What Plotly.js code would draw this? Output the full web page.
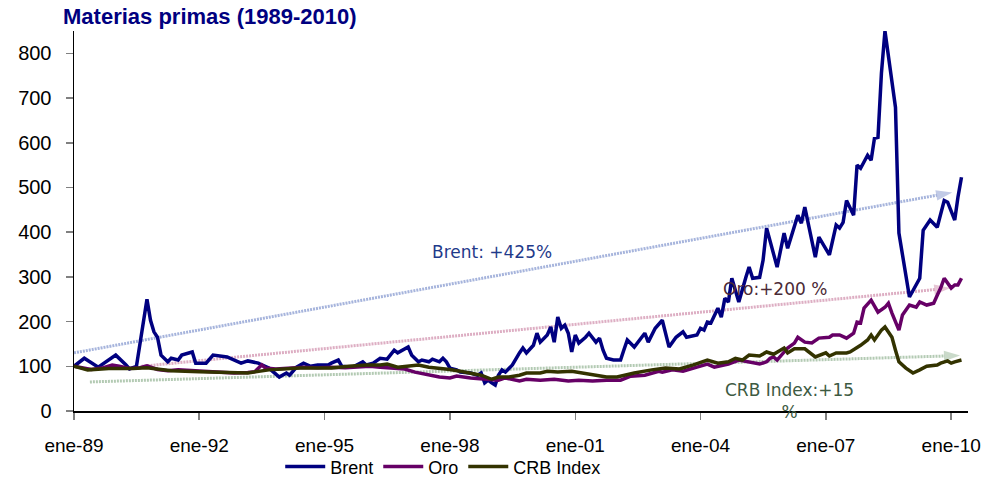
<!DOCTYPE html>
<html>
<head>
<meta charset="utf-8">
<script src="https://cdn.plot.ly/plotly-3.0.1.min.js"></script>
<style>html,body{margin:0;padding:0;background:#fff;}#chart{width:994px;height:480px;}</style>
</head>
<body>
<div id="chart"></div>
<script>
// ---- Data (base 100 = ene-89) ----
const brentDates = ['1989-01','1989-04','1989-08','1989-11','1990-01','1990-04','1990-05','1990-07','1990-10','1990-11','1990-12',
'1991-01','1991-02','1991-04','1991-05','1991-07','1991-08','1991-11','1991-12','1992-03','1992-05','1992-09','1993-01','1993-03',
'1993-06','1993-07','1993-09','1993-12','1994-02','1994-03','1994-05','1994-07','1994-09','1994-11','1995-02','1995-03','1995-05',
'1995-06','1995-09','1995-12','1996-01','1996-03','1996-05','1996-07','1996-09','1996-10','1997-01','1997-02','1997-04','1997-05',
'1997-07','1997-08','1997-10','1997-11','1997-12','1998-01','1998-03','1998-04','1998-07','1998-09','1998-10','1998-11','1998-12',
'1999-01','1999-02','1999-03','1999-04','1999-05','1999-07','1999-09','1999-10','1999-11','2000-01','2000-02','2000-03','2000-05',
'2000-06','2000-07','2000-08','2000-09','2000-10','2000-11','2000-12','2001-01','2001-02','2001-04','2001-05','2001-07','2001-08',
'2001-09','2001-10','2001-12','2002-02','2002-03','2002-04','2002-06','2002-07','2002-09','2002-10','2002-12','2003-02','2003-04',
'2003-06','2003-08','2003-09','2003-12','2004-01','2004-02','2004-03','2004-04','2004-06','2004-07','2004-08','2004-09','2004-10',
'2004-11','2004-12','2005-02','2005-03','2005-04','2005-06','2005-07','2005-08','2005-11','2006-01','2006-02','2006-05','2006-06',
'2006-07','2006-10','2006-11','2007-02','2007-04','2007-05','2007-06','2007-07','2007-09','2007-10','2007-11','2008-01','2008-02',
'2008-03','2008-04','2008-05','2008-06','2008-09','2008-10','2009-01','2009-02','2009-04','2009-05','2009-07','2009-09','2009-11',
'2009-12','2010-02','2010-03','2010-04'];
const brentValues = [100,118,98,114,125,103,94,100,250,203,177,
165,125,110,118,114,125,132,107,107,125,121,107,112,
107,103,96,76,85,80,98,107,100,103,103,107,114,
100,98,110,103,107,118,116,136,130,143,125,110,114,
110,116,110,118,110,96,92,87,85,80,85,63,69,
63,58,80,92,87,103,130,141,130,147,174,154,170,
188,154,210,185,192,174,132,170,152,165,174,154,163,
136,118,114,114,136,159,143,154,174,154,185,203,143,
165,177,165,170,185,181,199,197,230,210,252,244,297,
270,244,299,322,297,299,337,409,322,398,364,438,420,
456,344,389,349,416,409,422,471,438,550,543,572,561,
610,612,755,850,679,398,255,270,297,404,427,411,471,
467,427,478,523];

const oroDates = ['1989-01','1989-04','1989-06','1989-09','1989-12','1990-02','1990-05','1990-08','1990-10','1991-01','1991-04',
'1991-07','1991-11','1992-03','1992-07','1992-11','1993-03','1993-05','1993-07','1993-08','1993-11','1994-03','1994-07','1994-11',
'1995-03','1995-07','1995-11','1996-02','1996-05','1996-08','1996-12','1997-03','1997-07','1997-10','1998-01','1998-03','1998-07',
'1998-12','1999-03','1999-05','1999-07','1999-09','1999-11','2000-03','2000-07','2000-11','2001-02','2001-06','2001-10','2002-02',
'2002-05','2002-09','2003-01','2003-02','2003-05','2003-08','2003-12','2004-03','2004-05','2004-09','2004-12','2005-03','2005-06',
'2005-08','2005-09','2005-10','2005-11','2006-02','2006-04','2006-05','2006-07','2006-09','2006-11','2007-02','2007-03','2007-05',
'2007-07','2007-09','2007-10','2007-11','2007-12','2008-02','2008-04','2008-06','2008-07','2008-08','2008-10','2008-11','2009-01',
'2009-03','2009-04','2009-06','2009-08','2009-09','2009-10','2009-11','2010-01','2010-02','2010-03','2010-04'];
const oroValues = [100,96,93,96,103,100,95,97,101,93,90,
92,90,88,87,85,86,88,103,96,94,96,98,97,
98,97,98,100,98,96,94,87,80,76,74,78,74,
71,69,74,71,67,71,69,71,67,69,67,69,69,
78,80,89,87,92,89,98,105,98,105,114,110,105,
110,118,121,114,141,152,165,154,152,163,165,170,170,
163,174,199,197,230,248,221,232,241,219,181,215,237,
232,244,237,241,259,275,297,275,282,282,297];

const crbDates = ['1989-01','1989-05','1989-11','1990-06','1990-10','1991-05','1992-01','1992-10','1993-03','1993-09','1994-01',
'1994-06','1994-11','1995-03','1995-08','1996-01','1996-05','1996-07','1996-10','1997-01','1997-04','1997-07','1997-10','1998-01',
'1998-04','1998-07','1998-10','1999-01','1999-03','1999-06','1999-09','1999-11','2000-03','2000-05','2000-08','2000-12','2001-03',
'2001-07','2001-10','2002-01','2002-06','2002-11','2003-03','2003-07','2003-11','2004-03','2004-06','2004-09','2004-11','2005-01',
'2005-03','2005-06','2005-08','2005-10','2006-01','2006-02','2006-04','2006-07','2006-10','2007-01','2007-02','2007-04','2007-07',
'2007-08','2007-10','2007-11','2008-01','2008-02','2008-03','2008-05','2008-06','2008-08','2008-09','2008-10','2008-12','2009-02',
'2009-04','2009-06','2009-09','2009-10','2009-12','2010-01','2010-02','2010-04'];
const crbValues = [100,92,95,95,97,90,88,87,85,92,94,
96,96,96,100,103,103,105,98,100,103,98,96,93,
89,85,80,71,76,76,80,85,85,89,87,89,85,
80,76,76,85,92,96,94,103,114,107,110,118,114,
125,123,132,127,141,130,139,139,121,130,123,130,130,
132,141,147,159,170,159,181,188,165,136,110,96,85,
92,100,103,107,112,107,110,114];

// trend arrows (start, end)
const brentTrendX = ['1989-01-01','2010-01-10'];
const brentTrendY = [130, 489];
const oroTrendX = ['1990-08-15','2009-12-25'];
const oroTrendY = [100, 275];
const crbTrendX = ['1989-05-20','2010-03-20'];
const crbTrendY = [65, 124];

// axis ticks
const xTickVals = ['1989-01-01','1992-01-01','1995-01-01','1998-01-01','2001-01-01','2004-01-01','2007-01-01','2010-01-01'];
const xTickText = ['ene-89','ene-92','ene-95','ene-98','ene-01','ene-04','ene-07','ene-10'];
const yTickVals = [0,100,200,300,400,500,600,700,800];

const seriesNames = ['Brent','Oro','CRB Index'];
const seriesColors = ['#000080','#660066','#333300'];

const arialF = 'Liberation Sans, Arial, sans-serif';
const verdF = 'DejaVu Sans, Verdana, sans-serif';

function trend(x, y, color) {
  return {
    x: x, y: y, type: 'scatter', mode: 'lines+markers',
    line: {color: color, width: 3, dash: '2px,1px'},
    marker: {symbol: 'arrow', size: [0, 17], angleref: 'previous', color: color,
             line: {width: 0}},
    showlegend: false, hoverinfo: 'skip', cliponaxis: false
  };
}

const traces = [
  trend(brentTrendX, brentTrendY, '#a6b4dc'),
  trend(oroTrendX, oroTrendY, '#ddaec3'),
  trend(crbTrendX, crbTrendY, '#b3cab3'),
  {x: brentDates, y: brentValues, name: seriesNames[0], type: 'scatter', mode: 'lines',
   line: {color: seriesColors[0], width: 3.5}},
  {x: oroDates, y: oroValues, name: seriesNames[1], type: 'scatter', mode: 'lines',
   line: {color: seriesColors[1], width: 3.5}},
  {x: crbDates, y: crbValues, name: seriesNames[2], type: 'scatter', mode: 'lines',
   line: {color: seriesColors[2], width: 3.5}}
];

const layout = {
  width: 994, height: 480,
  margin: {l: 74, r: 26, t: 31, b: 69, autoexpand: false},
  paper_bgcolor: '#ffffff', plot_bgcolor: '#ffffff',
  title: {text: '<b>Materias primas (1989-2010)</b>', xref: 'container', yref: 'container',
          x: 0.0634, xanchor: 'left', y: 0.967, yanchor: 'middle',
          font: {family: arialF, size: 22, color: '#000080'}},
  xaxis: {type: 'date', range: ['1989-01-01', '2010-05-28'],
          tickmode: 'array', tickvals: xTickVals, ticktext: xTickText,
          showgrid: false, zeroline: false, showline: true, linecolor: '#000', linewidth: 1.5,
          ticks: 'outside', ticklen: 7, tickwidth: 1.5, tickcolor: '#808080',
          ticklabelstandoff: 10,
          tickfont: {family: arialF, size: 19, color: '#000'}},
  yaxis: {range: [0, 850], tickmode: 'array', tickvals: yTickVals,
          showgrid: false, zeroline: false, showline: true, linecolor: '#000', linewidth: 1.5,
          ticks: 'outside', ticklen: 7, tickwidth: 1.5, tickcolor: '#808080',
          ticklabelstandoff: 10,
          tickfont: {family: arialF, size: 20, color: '#000'}},
  legend: {orientation: 'h', x: 0.413, xanchor: 'center', y: -0.147, yanchor: 'middle',
           font: {family: arialF, size: 18, color: '#000'}, itemwidth: 40,
           bgcolor: 'rgba(0,0,0,0)', traceorder: 'normal'},
  annotations: [
    {x: '1999-01-01', y: 355, xref: 'x', yref: 'y', text: 'Brent: +425%', showarrow: false,
     font: {family: verdF, size: 17, color: '#1f3a8a'}},
    {x: '2005-10-15', y: 272, xref: 'x', yref: 'y', text: 'Oro:+200 %', showarrow: false,
     font: {family: verdF, size: 17, color: '#4b2a36'}},
    {x: '2006-02-15', y: 22, xref: 'x', yref: 'y', text: 'CRB Index:+15<br>%', showarrow: false,
     font: {family: verdF, size: 17, color: '#3d5a42'}}
  ],
  showlegend: true
};

Plotly.newPlot('chart', traces, layout, {displayModeBar: false, staticPlot: true});
</script>
</body>
</html>
